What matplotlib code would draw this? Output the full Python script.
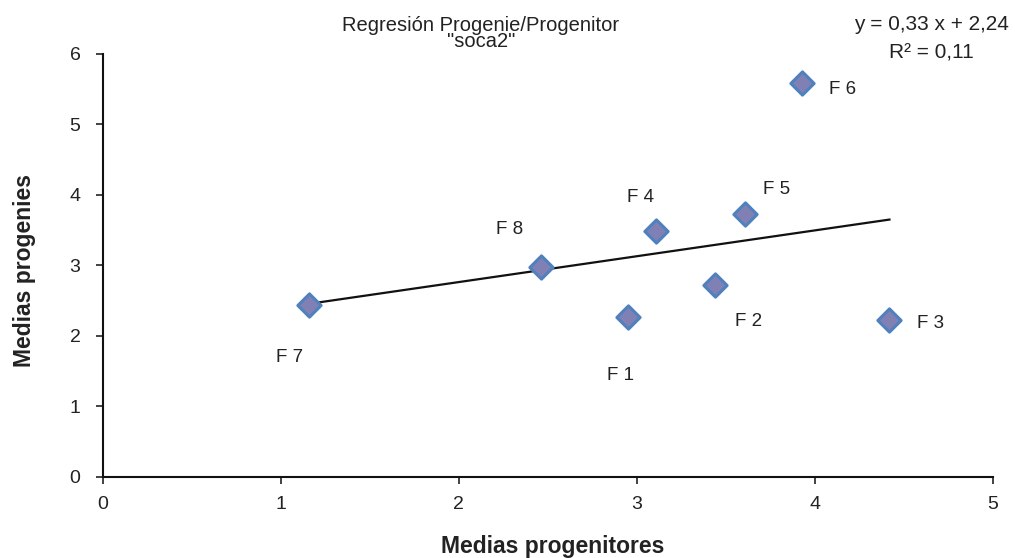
import numpy as np
import matplotlib
matplotlib.use("Agg")
import matplotlib.pyplot as plt

plt.rcParams['font.family'] = ['Liberation Sans', 'DejaVu Sans']

labels = ["F 1", "F 2", "F 3", "F 4", "F 5", "F 6", "F 7", "F 8"]
x_vals = [2.95, 3.44, 4.42, 3.11, 3.61, 3.93, 1.16, 2.46]
y_vals = [2.26, 2.72, 2.22, 3.48, 3.73, 5.58, 2.44, 2.97]
label_offsets_px = {  # label offsets in pixels (dx, dy) from marker
    "F 1": (-7, -58), "F 2": (34, -37), "F 3": (41, -3), "F 4": (-16, 34),
    "F 5": (31, 24), "F 6": (40, -6), "F 7": (-20, -53), "F 8": (-31, 38),
}
x_ticks = [0, 1, 2, 3, 4, 5]
y_ticks = [0, 1, 2, 3, 4, 5, 6]

fig = plt.figure(figsize=(10.15, 5.58), dpi=100)
ax = fig.add_axes([0.1012, 0.1457, 0.8768, 0.7584])

ax.scatter(x_vals, y_vals, marker='D', s=140, facecolor='#8080b4',
           edgecolor='#4f81bd', linewidths=2.2, zorder=3)

slope, intercept = np.polyfit(x_vals, y_vals, 1)
xl = np.array([min(x_vals), max(x_vals)])
ax.plot(xl, slope * xl + intercept, color='#111111', lw=1.6, zorder=2)

for lab, xv, yv in zip(labels, x_vals, y_vals):
    dx, dy = label_offsets_px[lab]
    ax.annotate(lab, (xv, yv), xytext=(dx * 0.72, dy * 0.72),
                textcoords='offset points', ha='center', va='center',
                fontsize=13.5, color='#222222')

ax.set_xlim(0, 5)
ax.set_ylim(0, 6)
ax.set_xticks(x_ticks)
ax.set_yticks(y_ticks)
ax.tick_params(axis='both', direction='out', length=5, width=1.2,
               labelsize=14, colors='#222222')
ax.tick_params(axis='x', pad=9)
ax.tick_params(axis='y', pad=11)
for s in ['top', 'right']:
    ax.spines[s].set_visible(False)
for s in ['left', 'bottom']:
    ax.spines[s].set_linewidth(1.5)
    ax.spines[s].set_color('#111111')

ax.set_xlabel('Medias progenitores', fontsize=16.5, fontweight='bold',
              color='#222222')
ax.xaxis.set_label_coords(0.506, -0.138)
ax.set_ylabel('Medias progenies', fontsize=16.5, fontweight='bold',
              color='#222222')
ax.yaxis.set_label_coords(-0.075, 0.4875)

fig.text(481 / 1015, 1 - 33.5 / 558, 'Regresión Progenie/Progenitor\n"soca2"',
         ha='center', va='center', fontsize=14.5, color='#222222', linespacing=0.85)
fig.text(931 / 1015, 1 - 39 / 558, 'y = 0,33 x + 2,24\nR² = 0,11',
         ha='center', va='center', fontsize=15, color='#222222', linespacing=1.65)

fig.savefig('out.png', dpi=100)
